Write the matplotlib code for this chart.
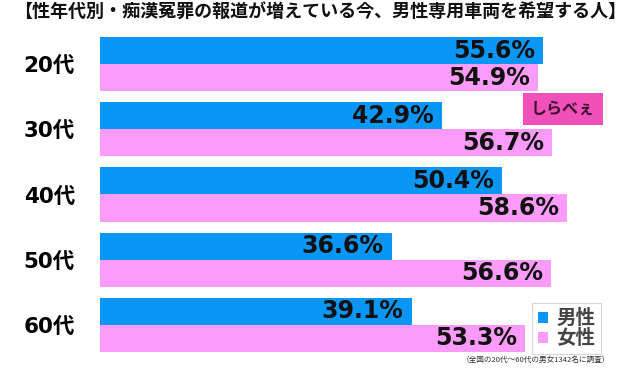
import matplotlib.pyplot as plt
import numpy as np

ages   = ['20代', '30代', '40代', '50代', '60代']
male   = [55.6, 42.9, 50.4, 36.6, 39.1]
female = [54.9, 56.7, 58.6, 56.6, 53.3]
series = ['男性', '女性']

title = '【性年代別・痴漢冤罪の報道が増えている今、男性専用車両を希望する人】'
note  = '（全国の20代～60代の男女1342名に調査）'

blue = '#0a96f5'
pink = '#fd9bfb'
fams = ['DejaVu Sans', 'Noto Sans CJK JP']
jfams = ['Noto Sans CJK JP', 'DejaVu Sans']

fig = plt.figure(figsize=(6.4, 3.75), dpi=100)
ax = fig.add_axes([100/640, 23/375, 540/640, 315/375])

y = np.arange(len(ages))
h = 0.414
ax.barh(y - h/2, male, height=h, color=blue, label=series[0])
ax.barh(y + h/2, female, height=h, color=pink, label=series[1])

for yi, m, f in zip(y, male, female):
    ax.text(m - 1.0, yi - h/2, f'{m}%', ha='right', va='center',
            fontsize=17, fontweight='bold', family=fams, color='#111')
    ax.text(f - 1.0, yi + h/2, f'{f}%', ha='right', va='center',
            fontsize=17, fontweight='bold', family=fams, color='#111')

ax.set_xlim(0, 540/7.97)
ax.set_ylim(len(ages) - 1 + h, -h)
ax.set_xticks([])
ax.set_yticks(y)
ax.set_yticklabels(ages, fontsize=15.5, fontweight='bold', family=fams)
ax.tick_params(axis='y', length=0, pad=18)
for s in ax.spines.values():
    s.set_visible(False)

fig.text(0.5, 1 - 12/375, title, ha='center', va='center', fontsize=13,
         fontweight='bold', family=jfams, color='#111')
fig.text(610/640, 1 - 360/375, note, ha='right', va='center', fontsize=5.5,
         family=jfams, color='#333')

# logo
fig.text(563/640, 1 - 109/375, 'しらべぇ', ha='center', va='center', fontsize=11.5,
         fontweight='bold', family=jfams, color='#3a1030',
         bbox=dict(boxstyle='square,pad=0.5', facecolor='#f050b8', edgecolor='none'))

leg = ax.legend(loc='upper left', bbox_to_anchor=(532/640, 1 - 303/375),
                bbox_transform=fig.transFigure, frameon=True, fancybox=False,
                edgecolor='#cccccc', handlelength=0.5, handleheight=0.5,
                handletextpad=0.45, borderpad=0.3, labelspacing=0.05,
                borderaxespad=0.0,
                prop={'family': jfams, 'weight': 'bold', 'size': 14})
leg.get_frame().set_linewidth(0.8)
for t in leg.get_texts():
    t.set_color('#444444')

fig.savefig('out.png', dpi=100)
